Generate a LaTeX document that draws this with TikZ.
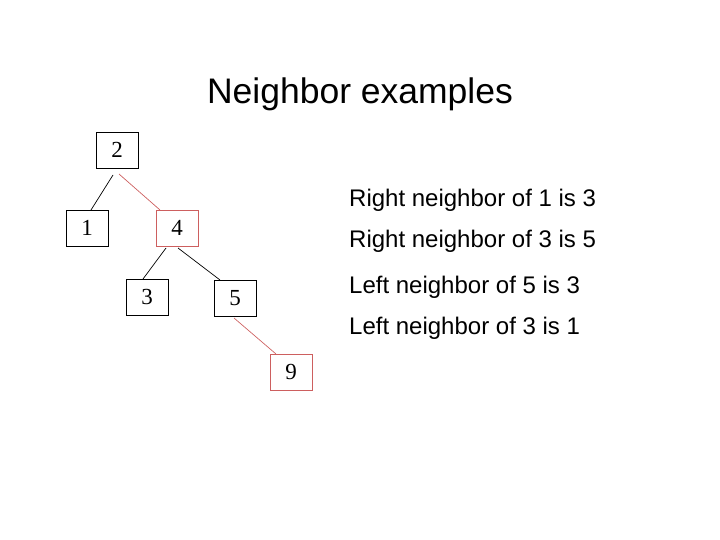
\documentclass[tikz,border=0pt]{standalone}
\usepackage{fontspec}
\setmainfont{Liberation Serif}
\newfontfamily\arial{Liberation Sans}
\begin{document}
\begin{tikzpicture}[x=1pt,y=-1pt]
\definecolor{redc}{RGB}{205,95,95}
\tikzset{box/.style={draw=black,line width=0.8pt,minimum width=42pt,minimum height=36pt,inner sep=0pt,font=\fontsize{23}{25}\selectfont},
 rbox/.style={box,draw=redc},
 edge/.style={line width=0.7pt},
 lab/.style={anchor=west,inner sep=0pt,font=\arial\fontsize{24}{26}\selectfont}}
\useasboundingbox (0,0) rectangle (720,540);
\node[font=\arial\fontsize{35.5}{38}\selectfont] (t) at (360,94) {Neighbor examples};
\node[box] (n2) at (117,150) {2};
\node[box] (n1) at (87,228) {1};
\node[rbox] (n4) at (177,228) {4};
\node[box] (n3) at (147,297) {3};
\node[box] (n5) at (235,298) {5};
\node[rbox] (n9) at (291,372) {9};
\coordinate (s21) at (113,175);
\coordinate (s24) at (119,174);
\coordinate (s43) at (166,248);
\coordinate (s45) at (178,248);
\coordinate (s59) at (234,318);
\coordinate (e21) at (91,210);
\coordinate (e24) at (160,210);
\coordinate (e43) at (143,279);
\coordinate (e45) at (220,280);
\coordinate (e59) at (276,354);
\draw[edge] (s21) -- (e21);
\draw[edge,redc] (s24) -- (e24);
\draw[edge] (s43) -- (e43);
\draw[edge] (s45) -- (e45);
\draw[edge,redc] (s59) -- (e59);
\node[lab] (l1) at (349,200) {Right neighbor of 1 is 3};
\node[lab] (l2) at (349,241) {Right neighbor of 3 is 5};
\node[lab] (l3) at (349,287) {Left neighbor of 5 is 3};
\node[lab] (l4) at (349,328) {Left neighbor of 3 is 1};
\end{tikzpicture}
\end{document}
